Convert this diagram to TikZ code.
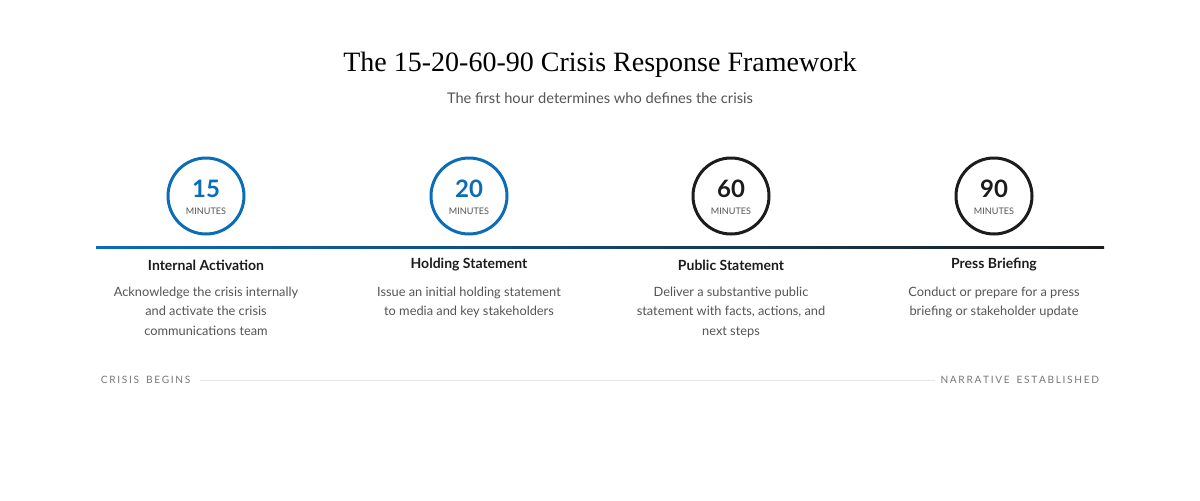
\documentclass[tikz,border=0pt]{standalone}
\usepackage{fontspec}
\setmainfont{Liberation Serif}
\setsansfont{Lato}
\usetikzlibrary{positioning}
\definecolor{tlblue}{HTML}{0B6DB8}
\definecolor{tlblack}{HTML}{1C1C1C}
\definecolor{tlgray}{HTML}{555555}
\definecolor{tlfoot}{HTML}{777777}
\tikzset{every picture/.style={line width=0.75pt},
  stepcircle/.style={circle,draw,line width=2.25pt,minimum size=57pt,inner sep=0pt},
  stephead/.style={font=\sffamily\bfseries\fontsize{10.5}{12}\selectfont,text=tlblack},
  stepdesc/.style={font=\sffamily\fontsize{9.6}{14.6}\selectfont,text=tlgray,align=center,anchor=north},
  footlabel/.style={font=\sffamily\fontsize{7.6}{9}\selectfont,text=tlfoot}}
\begin{document}
\begin{tikzpicture}[x=0.75pt,y=0.75pt,yscale=-1,xscale=1]
\useasboundingbox (0,0) rectangle (1200,500);
\fill[white] (0,0) rectangle (1200,500);

% Title
\node (title) at (600,65) {\fontsize{21}{24}\selectfont The 15-20-60-90 Crisis Response Framework};
\node (subtitle) at (600,98) {\sffamily\fontsize{11}{13}\selectfont\color{tlgray}The first hour determines who defines the crisis};

% Timeline
\shade[left color=tlblue,right color=tlblack] (96,246) rectangle (1104,248.5);

% Steps
\foreach \x/\n/\col/\head/\desc [count=\i] in {
  206/15/tlblue/Internal Activation/{Acknowledge the crisis internally\\and activate the crisis\\communications team},
  469/20/tlblue/Holding Statement/{Issue an initial holding statement\\to media and key stakeholders},
  731/60/tlblack/Public Statement/{Deliver a substantive public\\statement with facts, actions, and\\next steps},
  994/90/tlblack/Press Briefing/{Conduct or prepare for a press\\briefing or stakeholder update}}{
  \node[stepcircle,draw=\col,fill=white] (c\i) at (\x,196) {};
  \node[font=\sffamily\bfseries\fontsize{18}{20}\selectfont,text=\col] (n\i) at (\x,189) {\n};
  \node[font=\sffamily\fontsize{6.8}{8}\selectfont,text=tlgray] (m\i) at (\x,211) {MINUTES};
  \node[stephead] (h\i) at (\x,265) {\head};
  \node[stepdesc] (d\i) at (\x,282) {\desc};
}

% Footer
\node[footlabel,anchor=west] (fbegin) at (96,380) {C\,R\,I\,S\,I\,S\, \ B\,E\,G\,I\,N\,S};
\node[footlabel,anchor=east] (fend) at (1104,380) {N\,A\,R\,R\,A\,T\,I\,V\,E\, \ E\,S\,T\,A\,B\,L\,I\,S\,H\,E\,D};
\draw[line width=0.75pt,draw=black!10] (200,380) -- (935,380);
\end{tikzpicture}
\end{document}
